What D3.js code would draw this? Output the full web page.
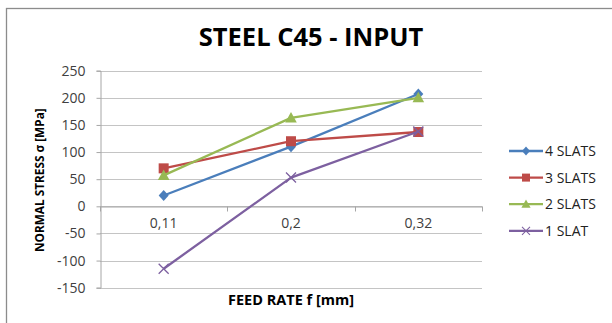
<!DOCTYPE html>
<html>
<head>
<meta charset="utf-8">
<script src="https://cdn.jsdelivr.net/npm/d3@7"></script>
<style>
  html, body { margin: 0; padding: 0; background: #fff; }
  svg { display: block; }
  text { font-family: "Open Sans", "DejaVu Sans", sans-serif; }
</style>
</head>
<body>
<svg id="chart" width="612" height="323"></svg>
<script>
// Feed rate categories (x axis)
const feedRates = ["0,11", "0,2", "0,32"];
// Normal stress per number of slats, MPa
const slats4 = [20, 110, 207];
const slats3 = [70, 120, 137];
const slats2 = [57, 163, 200];
const slat1 = [-115, 53, 138];
const seriesNames = ["4 SLATS", "3 SLATS", "2 SLATS", "1 SLAT"];
const seriesColors = ["#4A7EBB", "#BE4B48", "#98B954", "#7D60A0"];
const seriesMarkers = ["diamond", "square", "triangle", "cross"];
const yTicks = [-150, -100, -50, 0, 50, 100, 150, 200, 250];

const series = [slats4, slats3, slats2, slat1].map((values, i) => ({
  name: seriesNames[i], values, color: seriesColors[i], marker: seriesMarkers[i]
}));

const svg = d3.select("#chart");
const plot = { left: 100, right: 482, top: 70.7, bottom: 287.7 };

// Chart area frame
svg.append("rect")
  .attr("x", 6.5).attr("y", 8.5).attr("width", 640).attr("height", 340)
  .attr("fill", "#fff").attr("stroke", "#8c8c8c").attr("stroke-width", 1.3);

const x = d3.scaleBand().domain(feedRates).range([plot.left, plot.right]);
const y = d3.scaleLinear().domain([-150, 250]).range([plot.bottom, plot.top]);

// Horizontal gridlines
svg.append("g").selectAll("line").data(yTicks).join("line")
  .attr("x1", plot.left).attr("x2", plot.right)
  .attr("y1", d => Math.round(y(d)) + 0.5).attr("y2", d => Math.round(y(d)) + 0.5)
  .attr("stroke", "#c4c4c4").attr("stroke-width", 1.2);

// Y axis (plain hyphen for negative numbers)
const yAxis = svg.append("g")
  .attr("transform", `translate(${plot.left + 0.5},0)`)
  .call(d3.axisLeft(y).tickValues(yTicks).tickSize(4).tickPadding(11).tickFormat(d => String(d)));
yAxis.select(".domain").attr("stroke", "#a6a6a6");
yAxis.selectAll(".tick line").attr("stroke", "#a6a6a6");
yAxis.selectAll("text").attr("font-size", 14).attr("fill", "#404040")
  .attr("font-family", "'Open Sans', sans-serif");

// X axis drawn along the zero line
const xAxis = svg.append("g")
  .attr("transform", `translate(0,${Math.round(y(0)) + 0.5})`)
  .call(d3.axisBottom(x).tickSize(0).tickPadding(12));
xAxis.select(".domain").attr("stroke", "#a6a6a6");
xAxis.selectAll("text").attr("font-size", 14).attr("fill", "#404040")
  .attr("font-family", "'Open Sans', sans-serif");
// category boundary ticks
svg.append("g").selectAll("line")
  .data([plot.left, ...feedRates.map(f => x(f) + x.bandwidth())])
  .join("line")
  .attr("x1", d => Math.round(d) + 0.5).attr("x2", d => Math.round(d) + 0.5)
  .attr("y1", Math.round(y(0)) + 0.5).attr("y2", Math.round(y(0)) + 5.5)
  .attr("stroke", "#a6a6a6");

const cx = (i) => x(feedRates[i]) + x.bandwidth() / 2;

function drawMarker(g, type, color) {
  if (type === "diamond") {
    g.append("path").attr("d", "M0,-5.5L5,0L0,5.5L-5,0Z").attr("fill", color);
  } else if (type === "square") {
    g.append("rect").attr("x", -5).attr("y", -5).attr("width", 10).attr("height", 10).attr("fill", color);
  } else if (type === "triangle") {
    g.append("path").attr("d", "M0,-6L5.8,4.5L-5.8,4.5Z").attr("fill", color);
  } else {
    g.append("path").attr("d", "M-5,-5L5,5M-5,5L5,-5").attr("stroke", color).attr("stroke-width", 1.3);
  }
}

const line = d3.line().x((d, i) => cx(i)).y(d => y(d));

series.forEach(s => {
  svg.append("path").datum(s.values).attr("d", line)
    .attr("fill", "none").attr("stroke", s.color).attr("stroke-width", 2.3)
    .attr("stroke-linejoin", "round");
  s.values.forEach((v, i) => {
    const g = svg.append("g").attr("transform", `translate(${cx(i)},${y(v)})`);
    drawMarker(g, s.marker, s.color);
  });
});

// Title
svg.append("text").attr("x", 311).attr("y", 46).attr("text-anchor", "middle")
  .attr("font-size", 25.5).attr("font-weight", "bold").attr("fill", "#000")
  .text("STEEL C45 - INPUT");

// Axis titles
svg.append("text").attr("transform", `translate(43.5,${(plot.top + plot.bottom) / 2 + 1}) rotate(-90)`)
  .attr("text-anchor", "middle").attr("font-size", 11.8).attr("font-weight", "bold").attr("fill", "#000")
  .text("NORMAL STRESS σ [MPa]");
svg.append("text").attr("x", 291).attr("y", 305).attr("text-anchor", "middle")
  .attr("font-size", 14.5).attr("font-weight", "bold").attr("fill", "#000")
  .text("FEED RATE f [mm]");

// Legend
const legend = svg.append("g");
series.forEach((s, i) => {
  const ly = 151 + i * 26.6;
  const g = legend.append("g").attr("transform", `translate(509,${ly})`);
  g.append("line").attr("x1", 0).attr("x2", 34).attr("stroke", s.color).attr("stroke-width", 2.3);
  const m = g.append("g").attr("transform", "translate(17,0) scale(0.8)");
  drawMarker(m, s.marker, s.color);
  g.append("text").attr("x", 36).attr("y", 5).attr("font-size", 14).attr("fill", "#222").text(s.name);
});
</script>
</body>
</html>
